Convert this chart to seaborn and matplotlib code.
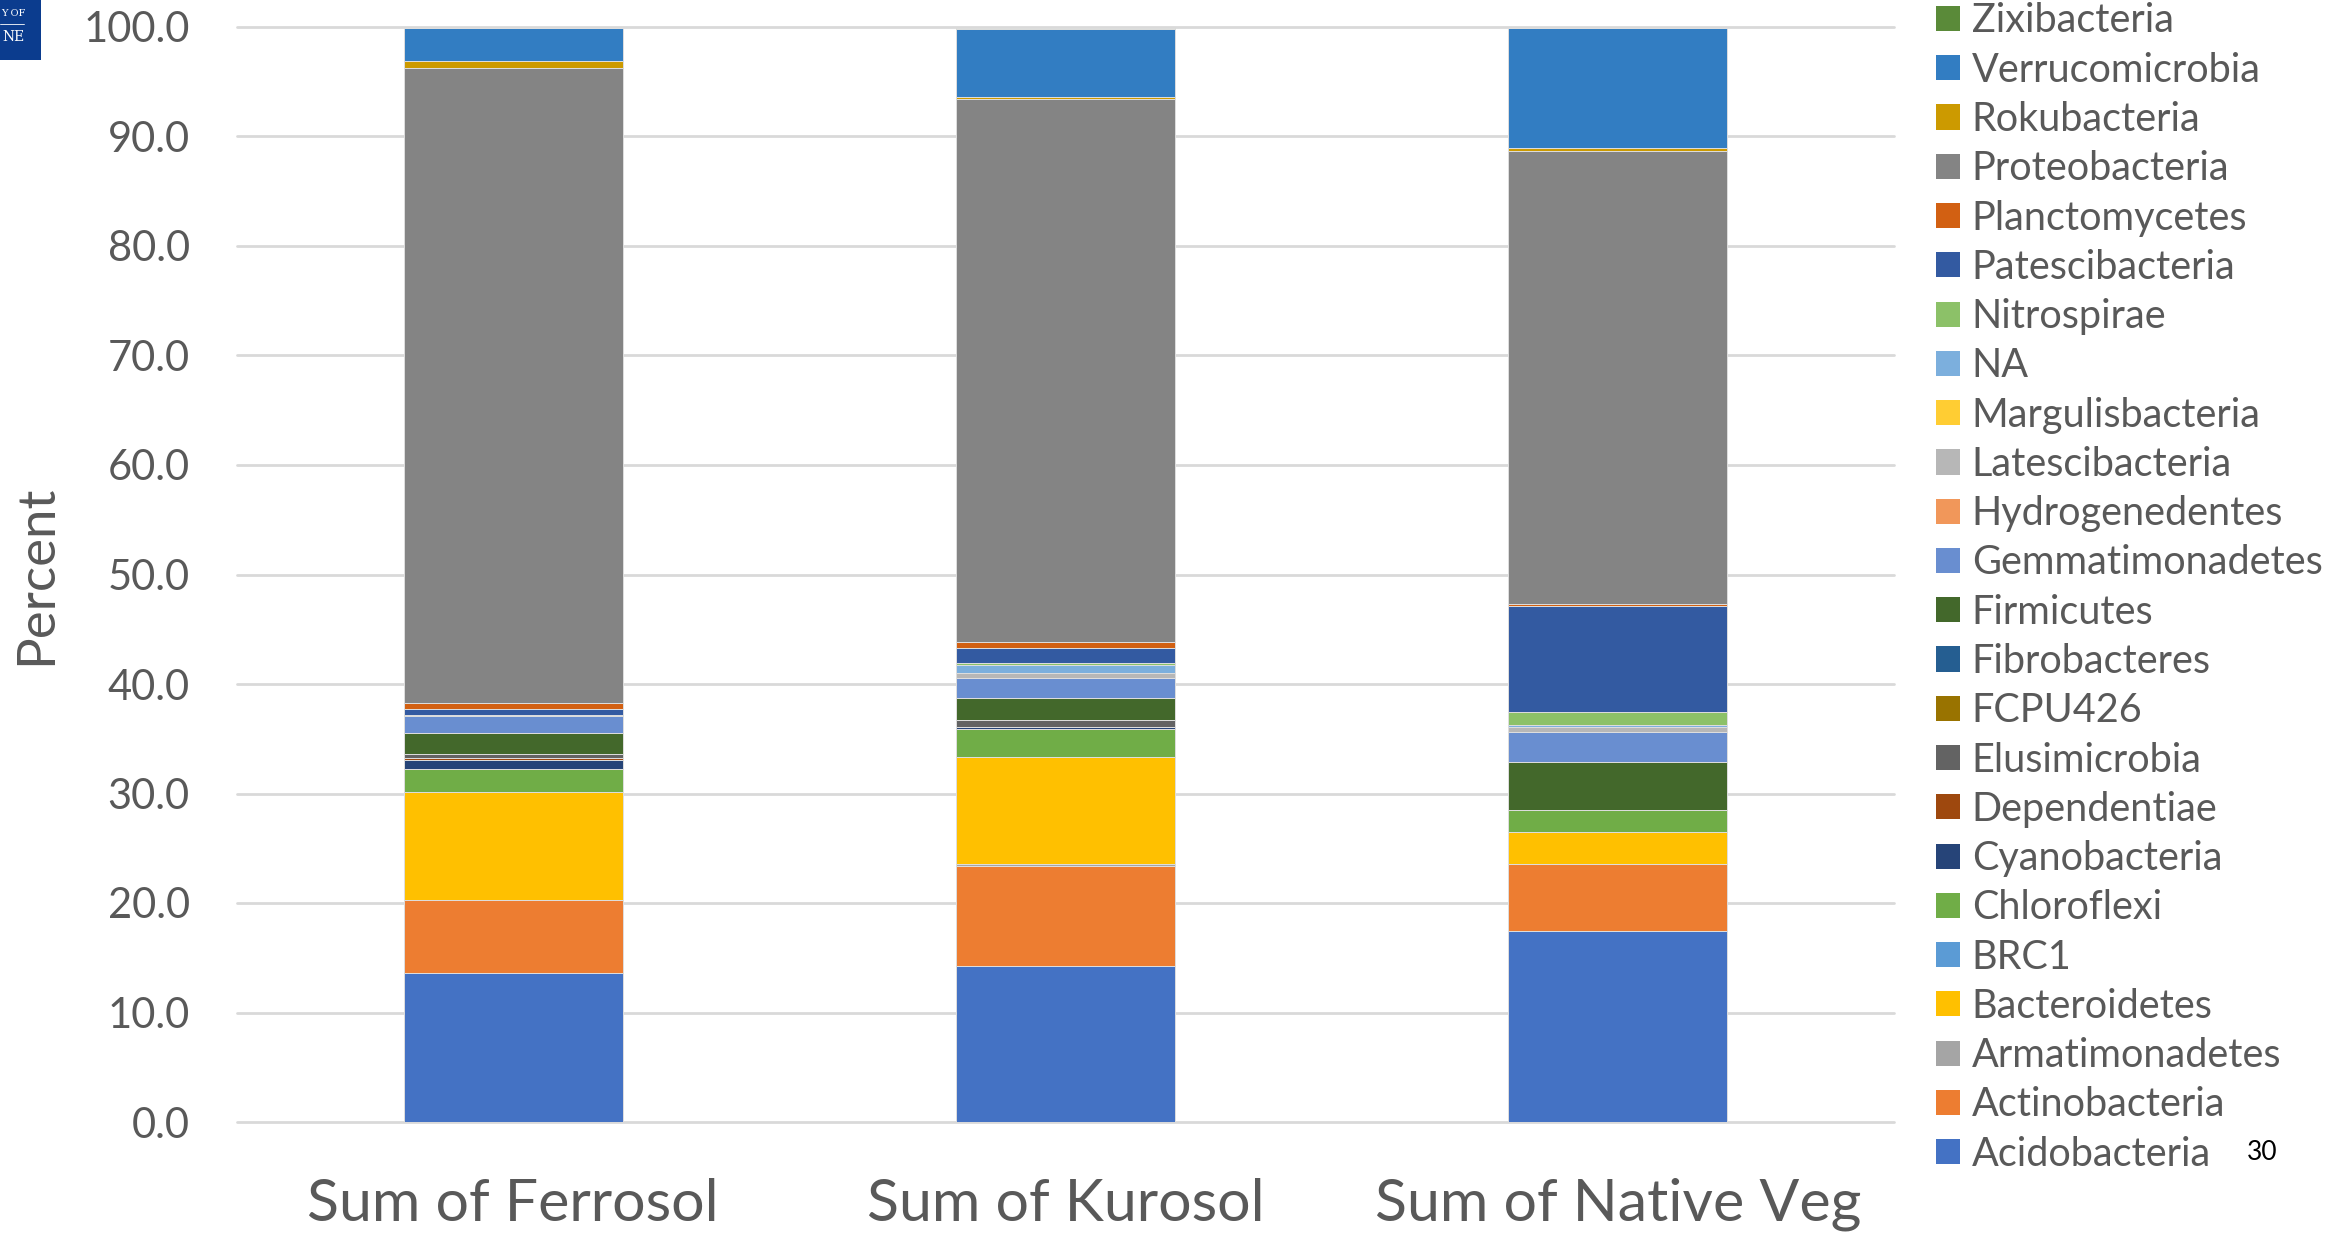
import matplotlib
matplotlib.use("Agg")
import matplotlib.pyplot as plt
from matplotlib.patches import Patch, Rectangle
from matplotlib.lines import Line2D
import numpy as np
import seaborn as sns

# Soil groups shown along the x axis
soils = ["Sum of Ferrosol", "Sum of Kurosol", "Sum of Native Veg"]

# Phyla in stacking order (bottom of the bar first)
phyla = [
    "Acidobacteria", "Actinobacteria", "Armatimonadetes", "Bacteroidetes", "BRC1",
    "Chloroflexi", "Cyanobacteria", "Dependentiae", "Elusimicrobia", "FCPU426",
    "Fibrobacteres", "Firmicutes", "Gemmatimonadetes", "Hydrogenedentes",
    "Latescibacteria", "Margulisbacteria", "NA", "Nitrospirae", "Patescibacteria",
    "Planctomycetes", "Proteobacteria", "Rokubacteria", "Verrucomicrobia", "Zixibacteria",
]

# Relative abundance (%) of each phylum per soil
ferrosol = [13.6, 6.7, 0.0, 9.8, 0.0, 2.1, 0.85, 0.2, 0.4, 0.0, 0.0, 1.9, 1.5, 0.0,
            0.0, 0.0, 0.0, 0.15, 0.55, 0.5, 58.0, 0.65, 3.05, 0.0]
kurosol = [14.25, 9.15, 0.15, 9.8, 0.0, 2.55, 0.15, 0.0, 0.7, 0.0, 0.0, 2.0, 1.8, 0.0,
           0.5, 0.0, 0.65, 0.25, 1.3, 0.6, 49.55, 0.25, 6.15, 0.15]
native_veg = [17.4, 6.2, 0.0, 2.9, 0.0, 2.0, 0.0, 0.0, 0.0, 0.0, 0.0, 4.4, 2.75, 0.0,
              0.45, 0.0, 0.15, 1.15, 9.75, 0.2, 41.3, 0.3, 11.0, 0.0]

phylum_colors = [
    "#4472C4", "#ED7D31", "#A5A5A5", "#FFC000", "#5B9BD5", "#70AD47", "#264478",
    "#9E480E", "#636363", "#997300", "#255E91", "#43682B", "#698ED0", "#F1975A",
    "#B7B7B7", "#FFCD33", "#7CAFDD", "#8CC168", "#335AA1", "#D26012", "#848484",
    "#CC9A00", "#327DC2", "#5A8A39",
]

y_ticks = np.arange(0, 101, 10)

sns.set_theme(style="white")
plt.rcParams["font.family"] = ["Lato", "DejaVu Sans"]

TEXT = "#595959"
W, H = 2341, 1233

fig = plt.figure(figsize=(W / 100, H / 100), dpi=100)
ax = fig.add_axes([237 / W, 1 - 1122 / H, (1894 - 237) / W, (1122 - 27) / H])

values = np.array([ferrosol, kurosol, native_veg])  # shape (soil, phylum)
bottom = np.zeros(len(soils))
for j, (name, color) in enumerate(zip(phyla, phylum_colors)):
    heights = values[:, j]
    sns.barplot(x=soils, y=heights, bottom=bottom, color=color, saturation=1,
                width=0.397, order=soils, errorbar=None, ax=ax,
                edgecolor="#dedede", linewidth=0.7 if heights.any() else 0)
    bottom = bottom + heights

ax.set_xlim(-0.5, 2.5)
ax.set_ylim(0, 100)
ax.set_yticks(y_ticks)
ax.set_yticklabels([f"{v:.1f}" for v in y_ticks])
ax.yaxis.grid(True, color="#d9d9d9", linewidth=2)
for gl in ax.get_ygridlines():
    gl.set_clip_on(False)
ax.set_axisbelow(True)
for s in ax.spines.values():
    s.set_visible(False)

ax.tick_params(axis="y", length=0, pad=34, labelsize=30, labelcolor=TEXT)
ax.tick_params(axis="x", length=0, pad=40, labelsize=42.5, labelcolor=TEXT)
ax.set_xlabel("")
ax.set_ylabel("Percent", fontsize=38, color=TEXT)
ax.yaxis.set_label_coords((37 - 237) / (1894 - 237), 0.5)
ax.yaxis.label.set_verticalalignment("center")

# Legend: top of the stack listed first
handles = [Patch(facecolor=c, edgecolor="none") for c in phylum_colors][::-1]
labels = phyla[::-1]
fig.legend(handles, labels, loc="upper left", bbox_to_anchor=(1936 / W, 0.998),
           frameon=False, fontsize=28.5, labelcolor=TEXT, handlelength=0.6,
           handleheight=0.6, handletextpad=0.3, labelspacing=0.31,
           borderpad=0, borderaxespad=0)

# Corner logo block
fig.patches.append(Rectangle((0, 1 - 60 / H), 41 / W, 60 / H, transform=fig.transFigure,
                             facecolor="#0b3c8e", edgecolor="none", zorder=5))
fig.text(25 / W, 1 - 13 / H, "Y OF", ha="right", va="center", color="white",
         fontsize=7, family="DejaVu Serif", zorder=6)
fig.lines.append(Line2D([0, 24 / W], [1 - 24 / H, 1 - 24 / H], transform=fig.transFigure,
                        color="white", linewidth=0.6, zorder=6))
fig.text(25 / W, 1 - 37 / H, "NE", ha="right", va="center", color="white",
         fontsize=10, family="DejaVu Serif", zorder=6)

# Slide number
fig.text(2262 / W, 1 - 1153 / H, "30", ha="center", va="center", color="black", fontsize=19)

fig.savefig("out.png", dpi=100, facecolor="white")
